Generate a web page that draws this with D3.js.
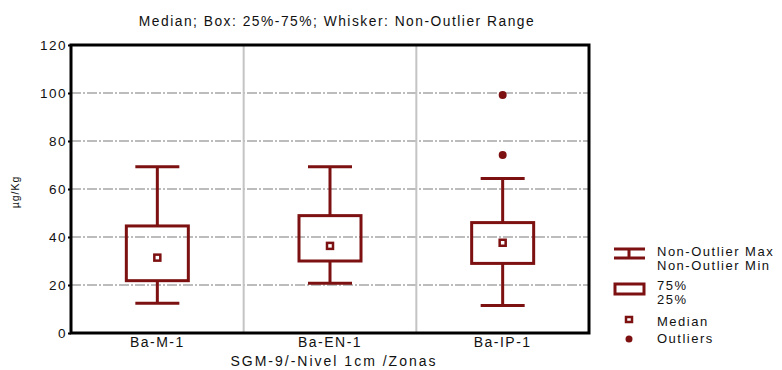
<!DOCTYPE html>
<html>
<head>
<meta charset="utf-8">
<title>Box plot</title>
<style>
  body { margin: 0; background: #fff; }
  text { font-family: "Liberation Sans", Arial, sans-serif; fill: #111; letter-spacing: 1.5px; }
</style>
</head>
<body>
<svg width="782" height="370"></svg>
<script src="https://d3js.org/d3.v7.min.js"></script>
<script>
// data
var categories = ["Ba-M-1", "Ba-EN-1", "Ba-IP-1"];
var minVals    = [12.4, 20.7, 11.5];
var q1Vals     = [21.8, 30.0, 29.0];
var medVals    = [31.4, 36.3, 37.6];
var q3Vals     = [44.6, 48.9, 46.0];
var maxVals    = [69.3, 69.3, 64.4];
var outliers   = [[], [], [99.2, 74.2]];
var yTicks     = [0, 20, 40, 60, 80, 100, 120];

var col = "#7d1010";

var svg = d3.select("svg"),
    margin = {top: 45, right: 193, bottom: 37, left: 71},
    width = +svg.attr("width") - margin.left - margin.right,
    height = +svg.attr("height") - margin.top - margin.bottom;

var x = d3.scaleBand().domain(categories).range([0, width]);
var y = d3.scaleLinear().domain([0, 120]).range([height, 0]);

var g = svg.append("g").attr("transform", "translate(" + margin.left + "," + margin.top + ")");

// grid
g.selectAll(".hgrid").data(yTicks.slice(1, -1)).enter().append("line")
  .attr("x1", 0).attr("x2", width)
  .attr("y1", d => y(d)).attr("y2", d => y(d))
  .attr("stroke", "#bcbcbc").attr("stroke-width", 2)
  .attr("stroke-dasharray", "10,2,2,2");

g.selectAll(".vgrid").data(categories.slice(1)).enter().append("line")
  .attr("x1", d => x(d)).attr("x2", d => x(d))
  .attr("y1", 0).attr("y2", height)
  .attr("stroke", "#c4c4c4").attr("stroke-width", 2);

// axes
var yAxis = d3.axisLeft(y).tickValues(yTicks).tickSize(3).tickPadding(4);
var gy = g.append("g").call(yAxis);
gy.select(".domain").remove();
gy.selectAll("line").attr("stroke", "#000").attr("stroke-width", 2);
gy.selectAll("text").style("font-size", "13.5px").attr("dy", "0.35em")
  .attr("x", -4);

var xAxis = d3.axisBottom(x).tickSize(0).tickPadding(8);
var gx = g.append("g").attr("transform", "translate(0," + height + ")").call(xAxis);
gx.select(".domain").remove();
gx.selectAll("text").style("font-size", "14px").attr("dy", null).attr("y", 14);

// frame
g.append("rect").attr("x", 0).attr("y", 0).attr("width", width).attr("height", height)
  .attr("fill", "none").attr("stroke", "#000").attr("stroke-width", 3);

// boxes
var boxW = 62, capW = 44;
categories.forEach(function(c, i) {
  var cx = x(c) + x.bandwidth() / 2;
  var b = g.append("g");
  b.append("line").attr("x1", cx).attr("x2", cx).attr("y1", y(maxVals[i])).attr("y2", y(q3Vals[i]))
    .attr("stroke", col).attr("stroke-width", 3);
  b.append("line").attr("x1", cx).attr("x2", cx).attr("y1", y(q1Vals[i])).attr("y2", y(minVals[i]))
    .attr("stroke", col).attr("stroke-width", 3);
  [maxVals[i], minVals[i]].forEach(function(v) {
    b.append("line").attr("x1", cx - capW / 2).attr("x2", cx + capW / 2)
      .attr("y1", y(v)).attr("y2", y(v)).attr("stroke", col).attr("stroke-width", 3);
  });
  b.append("rect").attr("x", cx - boxW / 2).attr("y", y(q3Vals[i]))
    .attr("width", boxW).attr("height", y(q1Vals[i]) - y(q3Vals[i]))
    .attr("fill", "none").attr("stroke", col).attr("stroke-width", 3);
  b.append("rect").attr("x", cx - 3).attr("y", y(medVals[i]) - 3)
    .attr("width", 6).attr("height", 6)
    .attr("fill", "#fff").attr("stroke", col).attr("stroke-width", 2.5);
  outliers[i].forEach(function(v) {
    b.append("circle").attr("cx", cx).attr("cy", y(v)).attr("r", 4).attr("fill", col);
  });
});

// titles
svg.append("text").attr("x", 337).attr("y", 26).attr("text-anchor", "middle")
  .style("font-size", "13.8px").text("Median; Box: 25%-75%; Whisker: Non-Outlier Range");
svg.append("text").attr("x", 334).attr("y", 366).attr("text-anchor", "middle")
  .style("font-size", "14px").style("letter-spacing", "2px").text("SGM-9/-Nivel 1cm /Zonas");
svg.append("text").attr("transform", "translate(19,192) rotate(-90)").attr("text-anchor", "middle")
  .style("font-size", "10.5px").style("letter-spacing", "1px").text("µg/Kg");

// legend
var lg = svg.append("g").attr("transform", "translate(613,0)");
lg.append("path").attr("d", "M1,249H32M1,258H32M16,249V258")
  .attr("fill", "none").attr("stroke", col).attr("stroke-width", 3);
lg.append("rect").attr("x", 2).attr("y", 284).attr("width", 29).attr("height", 10)
  .attr("fill", "none").attr("stroke", col).attr("stroke-width", 3);
lg.append("rect").attr("x", 13).attr("y", 317).attr("width", 6).attr("height", 5)
  .attr("fill", "#fff").attr("stroke", col).attr("stroke-width", 2.5);
lg.append("circle").attr("cx", 16).attr("cy", 339).attr("r", 3.5).attr("fill", col);

var legendText = [["Non-Outlier Max", 256], ["Non-Outlier Min", 270], ["75%", 290], ["25%", 304], ["Median", 326], ["Outliers", 343]];
lg.selectAll(".lt").data(legendText).enter().append("text")
  .attr("x", 44).attr("y", d => d[1]).style("font-size", "13px").text(d => d[0]);
</script>
</body>
</html>
